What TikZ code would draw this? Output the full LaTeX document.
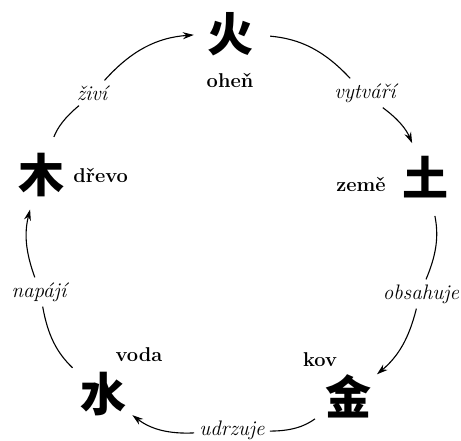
\documentclass[tikz,border=0pt]{standalone}
\usepackage{fontspec}
\usepackage{tikz}
\usetikzlibrary{arrows.meta, positioning}
\newfontfamily\cjk{Noto Sans CJK SC}

\begin{document}
\begin{tikzpicture}[
  x=1pt, y=1pt,
  elem/.style={
    circle, minimum size=64pt, inner sep=0pt,
    font=\cjk\bfseries\fontsize{46}{46}\selectfont
  },
  jmeno/.style={inner sep=0pt, font=\bfseries\fontsize{20}{24}\selectfont},
  popis/.style={inner sep=5pt, font=\itshape\fontsize{21}{24}\selectfont},
  arcout/.style={line width=1.1pt, shorten <=8pt},
  arcin/.style={line width=1.1pt, -{Stealth[length=11pt, width=7pt]}, shorten >=4pt}
]
\useasboundingbox (0,0) rectangle (461,441);

\node[elem] (huo) at (230,407) {火};
\node[elem] (tu) at (425,264) {土};
\node[elem] (jin) at (348,45) {金};
\node[elem] (shui) at (103,47) {水};
\node[elem] (mu) at (41,266) {木};

\node[jmeno, below=7pt of huo] (ohen) {oheň};
\node[jmeno, left=7pt of tu, yshift=-7pt] (zeme) {země};
\node[jmeno, above=-3pt of jin, xshift=-28pt] (kov) {kov};
\node[jmeno, above=0pt of shui, xshift=36pt] (voda) {voda};
\node[jmeno, right=0pt of mu] (drevo) {dřevo};

\node[popis] (zivi) at (92,348) {živí};
\node[popis] (vytvari) at (365,348) {vytváří};
\node[popis] (obsahuje) at (421,147) {obsahuje};
\node[popis] (udrzuje) at (232,11) {udrzuje};
\node[popis] (napaji) at (39,149) {napájí};

\draw[arcout] (mu) to[bend left=14] (zivi);
\draw[arcin] (zivi) to[bend left=22] (huo);
\draw[arcout] (huo) to[bend left=21] (vytvari);
\draw[arcin] (vytvari) to[bend left=15] (tu);
\draw[arcout] (tu) to[bend left=17] (obsahuje);
\draw[arcin] (obsahuje) to[bend left=18] (jin);
\draw[arcout] (jin) to[bend left=18] (udrzuje);
\draw[arcin] (udrzuje) to[bend left=20] (shui);
\draw[arcout] (shui) to[bend left=18] (napaji);
\draw[arcin] (napaji) to[bend left=17] (mu);

\end{tikzpicture}
\end{document}
